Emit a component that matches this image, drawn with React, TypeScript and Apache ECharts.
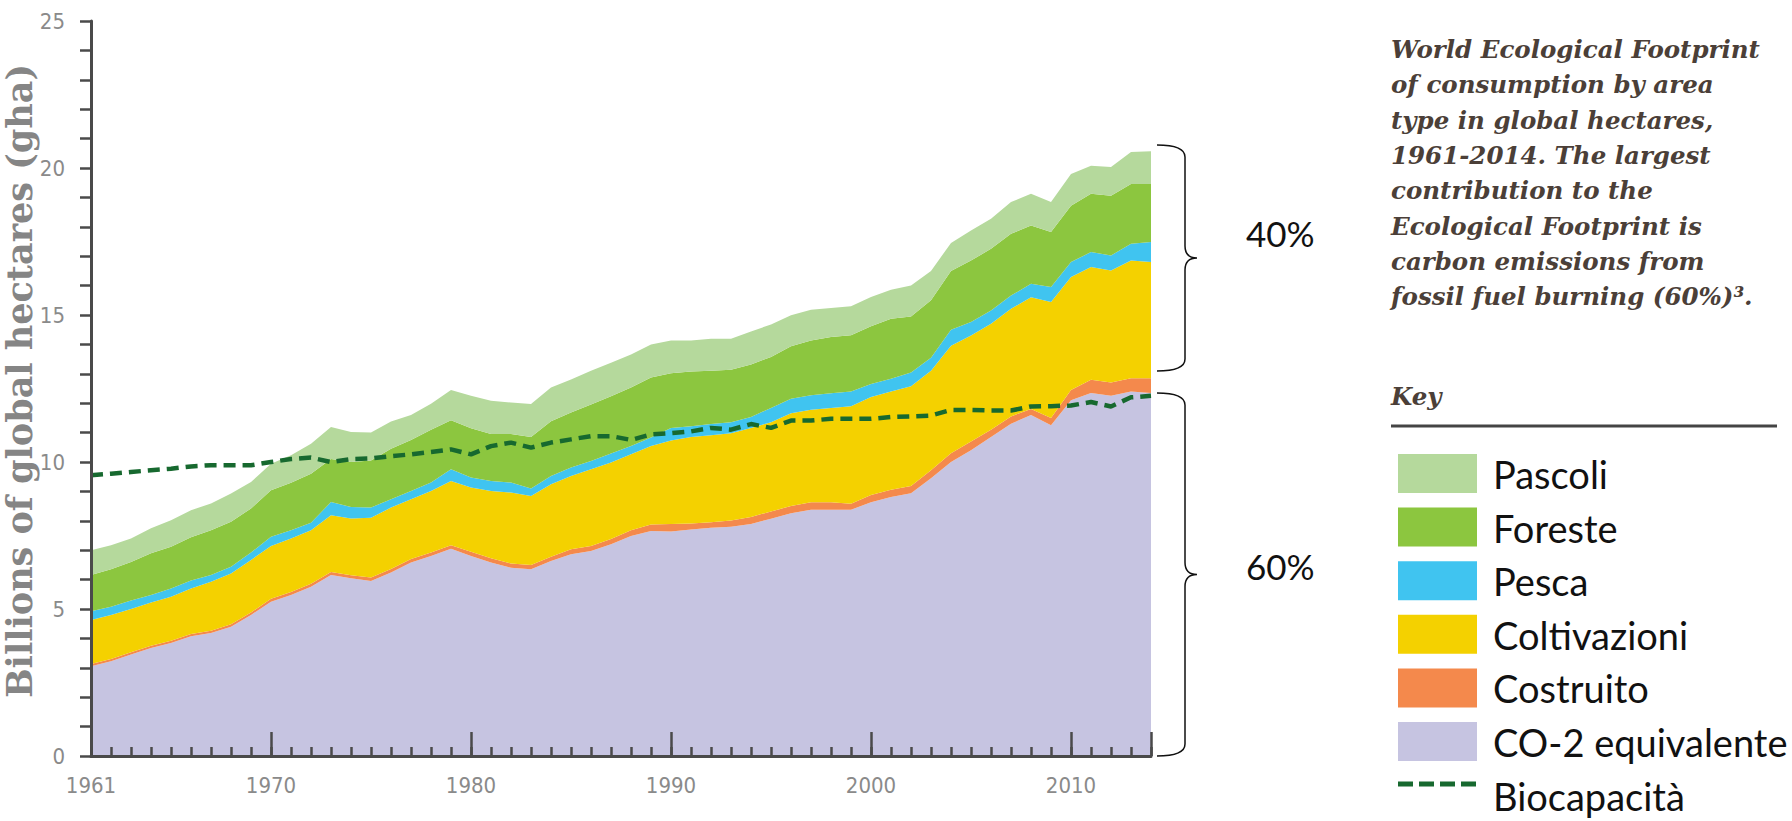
import React, { useEffect, useRef } from "react";
import * as echarts from "echarts";

const years: string[] = [];
for (let y = 1961; y <= 2014; y++) years.push(String(y));

// Billions of global hectares, per land type (stacked)
const co2 = [3.05,3.22,3.45,3.67,3.84,4.07,4.18,4.4,4.8,5.25, 5.48,5.76,6.16,6.05,5.95,6.24,6.58,6.8,7.05,6.8, 6.58,6.4,6.35,6.63,6.86,6.97,7.2,7.48,7.65,7.64, 7.7,7.76,7.8,7.89,8.07,8.26,8.38,8.38,8.38,8.63, 8.81,8.94,9.45,10.0,10.4,10.85,11.3,11.6,11.25,12.1, 12.35,12.25,12.4,12.35];
const built = [0.08,0.08,0.08,0.08,0.08,0.08,0.08,0.08,0.08,0.1, 0.1,0.1,0.1,0.1,0.12,0.12,0.12,0.12,0.12,0.15, 0.15,0.15,0.15,0.15,0.17,0.17,0.18,0.2,0.22,0.25, 0.21,0.19,0.21,0.24,0.25,0.24,0.25,0.25,0.2,0.25, 0.25,0.24,0.27,0.3,0.3,0.25,0.25,0.2,0.25,0.35, 0.45,0.45,0.45,0.5];
const crops = [1.5,1.5,1.47,1.47,1.5,1.55,1.67,1.73,1.79,1.79, 1.82,1.82,1.93,1.93,2.03,2.09,2.03,2.09,2.18,2.18, 2.28,2.41,2.34,2.46,2.49,2.61,2.6,2.58,2.67,2.84, 2.94,2.96,2.97,3.03,3.03,3.16,3.15,3.21,3.32,3.33, 3.34,3.4,3.38,3.65,3.6,3.6,3.66,3.8,3.94,3.84, 3.83,3.81,4.0,3.95];
const fish = [0.29,0.28,0.29,0.26,0.28,0.27,0.23,0.23,0.25,0.32, 0.28,0.25,0.45,0.39,0.35,0.28,0.28,0.29,0.4,0.34, 0.34,0.34,0.26,0.28,0.29,0.28,0.31,0.28,0.29,0.43, 0.37,0.38,0.37,0.37,0.49,0.49,0.49,0.5,0.5,0.44, 0.43,0.46,0.45,0.55,0.46,0.45,0.45,0.46,0.51,0.51, 0.51,0.51,0.57,0.68];
const forest = [1.24,1.27,1.31,1.42,1.42,1.47,1.52,1.53,1.5,1.58, 1.61,1.67,1.46,1.53,1.6,1.72,1.74,1.8,1.67,1.68, 1.6,1.65,1.75,1.87,1.87,1.93,1.95,1.99,2.04,1.86, 1.86,1.81,1.79,1.79,1.73,1.79,1.86,1.91,1.91,1.97, 2.04,1.91,1.95,2.0,2.09,2.1,2.1,1.98,1.87,1.92, 1.98,2.04,2.04,1.98];
const grazing = [0.84,0.82,0.8,0.85,0.9,0.92,0.91,0.96,0.9,0.9, 0.94,1.02,1.09,1.02,0.95,0.93,0.85,0.88,1.03,1.1, 1.13,1.07,1.12,1.14,1.13,1.14,1.14,1.13,1.13,1.11, 1.05,1.09,1.05,1.12,1.11,1.05,1.05,0.99,0.99,0.99, 0.99,1.05,1.0,0.95,1.02,1.02,1.08,1.08,1.02,1.08, 0.96,0.97,1.08,1.11];
const biocap = [9.55,9.6,9.66,9.72,9.77,9.85,9.89,9.89,9.89,10.0, 10.1,10.15,10.0,10.1,10.12,10.2,10.26,10.34,10.43,10.26, 10.54,10.66,10.49,10.66,10.77,10.88,10.88,10.75,10.94,10.98, 11.04,11.16,11.1,11.29,11.16,11.41,11.41,11.47,11.47,11.47, 11.53,11.55,11.58,11.77,11.77,11.75,11.75,11.89,11.9,11.92, 12.04,11.89,12.2,12.25];

const labelYears = ["1961", "1970", "1980", "1990", "2000", "2010"];
const yTickLabels = [0, 5, 10, 15, 20, 25];

const legendNames = ["Pascoli", "Foreste", "Pesca", "Coltivazioni", "Costruito", "CO-2 equivalente"];
const legendColors = ["#b5d99c", "#8cc63f", "#40c4f0", "#f4d100", "#f4894c", "#c6c4e1"];
const bioName = "Biocapacità";
const bioColor = "#17692f";

const captionLines = [
  "World Ecological Footprint",
  "of consumption by area",
  "type in global hectares,",
  "1961-2014. The largest",
  "contribution to the",
  "Ecological Footprint is",
  "carbon emissions from",
  "fossil fuel burning (60%)³.",
];

const upperBrace = "M0 0 Q28 0 28 12 L28 101 Q28 113 40 113 Q28 113 28 125 L28 214 Q28 226 0 226";
const lowerBrace = "M0 0 Q28 0 28 12 L28 169.5 Q28 181.5 40 181.5 Q28 181.5 28 193.5 L28 351 Q28 363 0 363";
echarts.graphic.registerShape("braceUp", echarts.graphic.extendPath(upperBrace, {}));
echarts.graphic.registerShape("braceLow", echarts.graphic.extendPath(lowerBrace, {}));

const tickFont = "'Liberation Sans Narrow', 'DejaVu Sans Condensed', sans-serif";

export default function App() {
  const ref = useRef<HTMLDivElement>(null);
  useEffect(() => {
    if (!ref.current) return;
    const chart = echarts.init(ref.current, undefined, { renderer: "svg" });
    const areaSeries = (name: string, data: number[], color: string) => ({
      name,
      type: "line",
      stack: "total",
      data,
      symbol: "none",
      showSymbol: false,
      lineStyle: { width: 0, opacity: 0 },
      areaStyle: { color, opacity: 1 },
      itemStyle: { color },
      z: 2,
    });
    const legendGraphics: any[] = [];
    legendNames.forEach((n, i) => {
      legendGraphics.push({
        type: "rect",
        shape: { x: 1398, y: 454 + i * 53.6, width: 79, height: 39 },
        style: { fill: legendColors[i] },
      });
      legendGraphics.push({
        type: "text",
        x: 1493,
        y: 474 + i * 53.6,
        style: { text: n, font: "38px Lato", fill: "#111", textVerticalAlign: "middle", textAlign: "left" },
      });
    });
    legendGraphics.push({
      type: "line",
      shape: { x1: 1398, y1: 784, x2: 1477, y2: 784 },
      style: { stroke: bioColor, lineWidth: 5, lineDash: [15, 6] },
    });
    legendGraphics.push({
      type: "text",
      x: 1493,
      y: 474 + 6 * 53.6,
      style: { text: bioName, font: "38px Lato", fill: "#111", textVerticalAlign: "middle", textAlign: "left" },
    });

    const majorTick = (_i: number, v: string) => Number(v) % 10 === 0 || v === "2014";

    chart.setOption({
      animation: false,
      backgroundColor: "#ffffff",
      grid: { left: 91, right: 641, top: 21, bottom: 65 },
      xAxis: [
        {
          type: "category",
          data: years,
          boundaryGap: false,
          axisLine: { show: true, lineStyle: { color: "#4a4a4a", width: 3 } },
          axisTick: { show: true, inside: true, length: 9, interval: 0, lineStyle: { color: "#4a4a4a", width: 2.5 } },
          axisLabel: {
            interval: (_i: number, v: string) => labelYears.indexOf(v) >= 0,
            margin: 18,
            color: "#8a8a8a",
            fontFamily: tickFont,
            fontSize: 22,
          },
          splitLine: { show: false },
          z: 5,
        },
        {
          type: "category",
          data: years,
          boundaryGap: false,
          position: "bottom",
          axisLine: { show: false },
          axisTick: { show: true, inside: true, length: 24, interval: majorTick, lineStyle: { color: "#4a4a4a", width: 2.5 } },
          axisLabel: { show: false },
          splitLine: { show: false },
          z: 5,
        },
      ],
      yAxis: {
        type: "value",
        min: 0,
        max: 25,
        interval: 1,
        axisLine: { show: true, lineStyle: { color: "#4a4a4a", width: 3 } },
        axisTick: { show: true, inside: false, length: 11, lineStyle: { color: "#4a4a4a", width: 2.5 } },
        axisLabel: {
          formatter: (v: number) => (yTickLabels.indexOf(v) >= 0 ? String(v) : ""),
          margin: 26,
          color: "#8a8a8a",
          fontFamily: tickFont,
          fontSize: 22,
        },
        splitLine: { show: false },
        z: 5,
      },
      series: [
        areaSeries("CO-2 equivalente", co2, legendColors[5]),
        areaSeries("Costruito", built, legendColors[4]),
        areaSeries("Coltivazioni", crops, legendColors[3]),
        areaSeries("Pesca", fish, legendColors[2]),
        areaSeries("Foreste", forest, legendColors[1]),
        areaSeries("Pascoli", grazing, legendColors[0]),
        {
          name: bioName,
          type: "line",
          data: biocap,
          symbol: "none",
          showSymbol: false,
          lineStyle: { color: bioColor, width: 4.5, type: [12, 7] },
          itemStyle: { color: bioColor },
          z: 4,
        },
      ],
      graphic: [
        {
          type: "text",
          x: 19,
          y: 381,
          rotation: Math.PI / 2,
          style: {
            text: "Billions of global hectares (gha)",
            font: "bold 35px 'DejaVu Serif', serif",
            fill: "#858585",
            textAlign: "center",
            textVerticalAlign: "middle",
          },
        },
        {
          type: "text",
          x: 1391,
          y: 32,
          style: {
            text: captionLines.join("\n"),
            font: "italic bold 24.5px 'DejaVu Serif', serif",
            lineHeight: 35.3,
            fill: "#4b3f38",
            textAlign: "left",
            textVerticalAlign: "top",
          },
        },
        {
          type: "text",
          x: 1391,
          y: 396,
          style: {
            text: "Key",
            font: "italic bold 24.5px 'DejaVu Serif', serif",
            fill: "#4b3f38",
            textAlign: "left",
            textVerticalAlign: "middle",
          },
        },
        {
          type: "line",
          shape: { x1: 1391, y1: 426, x2: 1777, y2: 426 },
          style: { stroke: "#444", lineWidth: 3 },
        },
        {
          type: "braceUp",
          x: 1157,
          y: 145,
          style: { stroke: "#111", lineWidth: 1.5, fill: null },
        },
        {
          type: "braceLow",
          x: 1157,
          y: 393,
          style: { stroke: "#111", lineWidth: 1.5, fill: null },
        },
        {
          type: "text",
          x: 1246,
          y: 233,
          style: { text: "40%", font: "35px Lato", fill: "#111", textAlign: "left", textVerticalAlign: "middle" },
        },
        {
          type: "text",
          x: 1246,
          y: 566,
          style: { text: "60%", font: "35px Lato", fill: "#111", textAlign: "left", textVerticalAlign: "middle" },
        },
        ...legendGraphics,
      ],
    });
    return () => chart.dispose();
  }, []);
  return <div ref={ref} style={{ position: "fixed", left: 0, top: 0, width: 1792, height: 821 }} />;
}
